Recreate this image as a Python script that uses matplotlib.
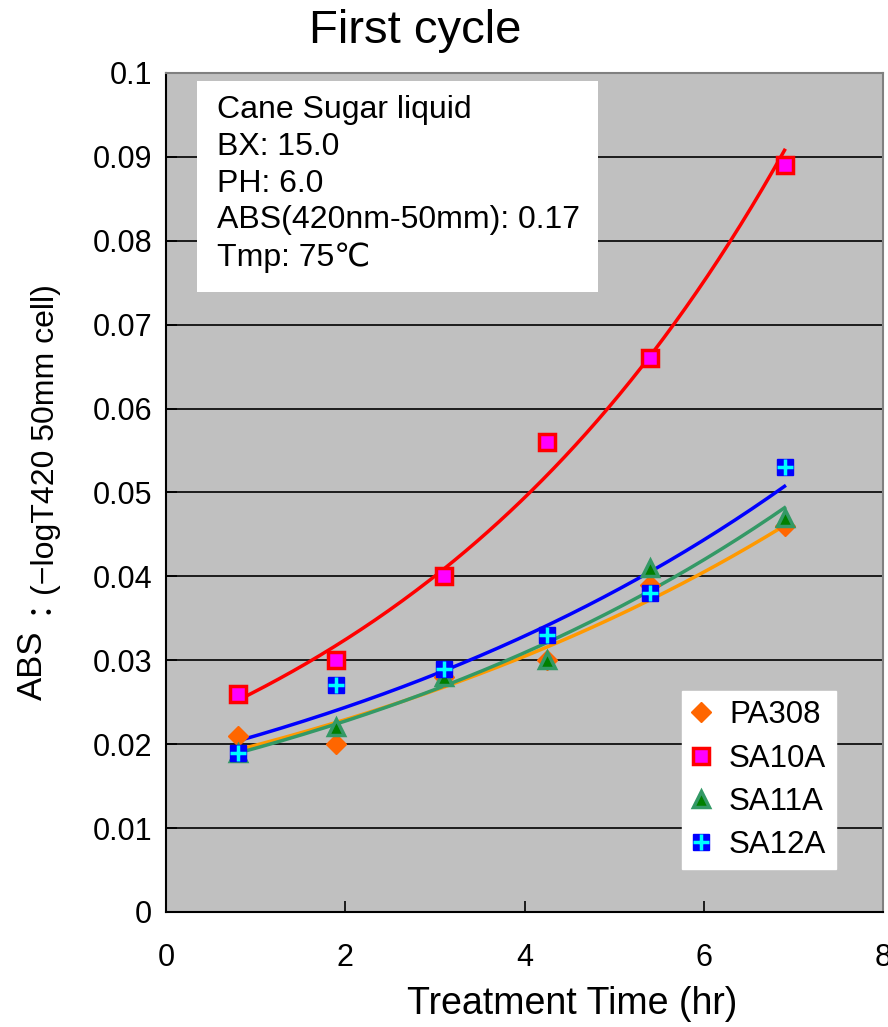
import matplotlib.pyplot as plt
from matplotlib.legend_handler import HandlerTuple
from matplotlib.patches import Rectangle
import numpy as np

plt.rcParams['font.family'] = ['Liberation Sans', 'DejaVu Sans']

# data
time_hr = [0.8, 1.9, 3.1, 4.25, 5.4, 6.9]
pa308 = [0.021, 0.020, 0.028, 0.030, 0.039, 0.046]
sa10a = [0.026, 0.030, 0.040, 0.056, 0.066, 0.089]
sa11a = [0.019, 0.022, 0.028, 0.030, 0.041, 0.047]
sa12a = [0.019, 0.027, 0.029, 0.033, 0.038, 0.053]

info_text = "Cane Sugar liquid\nBX: 15.0\nPH: 6.0\nABS(420nm-50mm): 0.17\nTmp: 75\u2103"

fig = plt.figure(figsize=(8.88, 10.27), dpi=100)
ax = fig.add_axes([0.187, 0.112, 0.8075, 0.817])
ax.set_facecolor('#C0C0C0')

t = np.array(time_hr)
tt = np.linspace(t.min(), t.max(), 200)


def exp_trend(y):
    # excel style exponential trendline
    b, a = np.polyfit(t, np.log(y), 1)
    return np.exp(a) * np.exp(b * tt)


ax.plot(tt, exp_trend(pa308), color='#FF9900', lw=2.5, zorder=3)
ax.plot(tt, exp_trend(sa10a), color='#FF0000', lw=2.5, zorder=3)
ax.plot(tt, exp_trend(sa11a), color='#339966', lw=2.5, zorder=3)
ax.plot(tt, exp_trend(sa12a), color='#0000FF', lw=2.5, zorder=3)

h1, = ax.plot(time_hr, pa308, 'D', ms=10, color='#FF6600', mec='#FF6600', ls='none', zorder=4)
h2, = ax.plot(time_hr, sa10a, 's', ms=11, mfc='#FF00FF', mec='#FF0000', mew=2.5, ls='none', zorder=4)
h3, = ax.plot(time_hr, sa11a, '^', ms=12, mfc='#008000', mec='#339966', mew=2.5, ls='none', zorder=5)
h4a, = ax.plot(time_hr, sa12a, 's', ms=12, mfc='#0000FF', mec='#0000FF', ls='none', zorder=6)
h4b, = ax.plot(time_hr, sa12a, '+', ms=12, color='#00FFFF', mew=2.5, ls='none', zorder=7)

ax.set_xlim(0, 8)
ax.set_ylim(0, 0.1)
ax.set_xticks([0, 2, 4, 6, 8])
ax.set_yticks(np.arange(0, 0.101, 0.01))
ax.set_yticklabels(['0', '0.01', '0.02', '0.03', '0.04', '0.05', '0.06', '0.07', '0.08', '0.09', '0.1'])
ax.yaxis.grid(True, color='black', lw=1.2)
ax.set_axisbelow(True)
ax.tick_params(labelsize=22, direction='in', length=8, width=1.2)
ax.tick_params(axis='x', pad=22)
ax.tick_params(axis='y', pad=10)
for s in ['top', 'right']:
    ax.spines[s].set_color('#808080')
    ax.spines[s].set_linewidth(1.5)
ax.spines['left'].set_linewidth(1.5)
ax.spines['bottom'].set_linewidth(1.5)

ax.set_xlabel('Treatment Time (hr)', fontsize=27)
ax.xaxis.set_label_coords(0.566, -0.088)

fig.text(0.467, 0.97, 'First cycle', fontsize=34, ha='center', va='center')
fig.text(0.036, 0.318, 'ABS', fontsize=25, rotation=90, ha='center', va='bottom')
fig.text(0.052, 0.389, '\uff1a(\u2212logT420 50mm cell)', fontsize=23, rotation=90,
         ha='center', va='bottom', family=['Liberation Sans', 'Noto Sans CJK JP'])

# info box
ax.add_patch(Rectangle((0.0432, 0.739), 0.5593, 0.2515, transform=ax.transAxes,
                       fc='white', ec='none', zorder=8))
ax.text(0.0711, 0.974, info_text, transform=ax.transAxes, fontsize=23, va='top', ha='left',
        linespacing=1.3, zorder=9)

leg = ax.legend([h1, h2, h3, (h4a, h4b)], ['PA308', 'SA10A', 'SA11A', 'SA12A'],
                handler_map={tuple: HandlerTuple(ndivide=1)},
                loc='lower right', bbox_to_anchor=(0.934, 0.051), borderaxespad=0,
                fontsize=22.5, handlelength=0.6, handletextpad=0.6, labelspacing=0.42,
                borderpad=0.3, fancybox=False, framealpha=1, edgecolor='white')
leg.set_zorder(9)

fig.savefig('out.png', dpi=100)
